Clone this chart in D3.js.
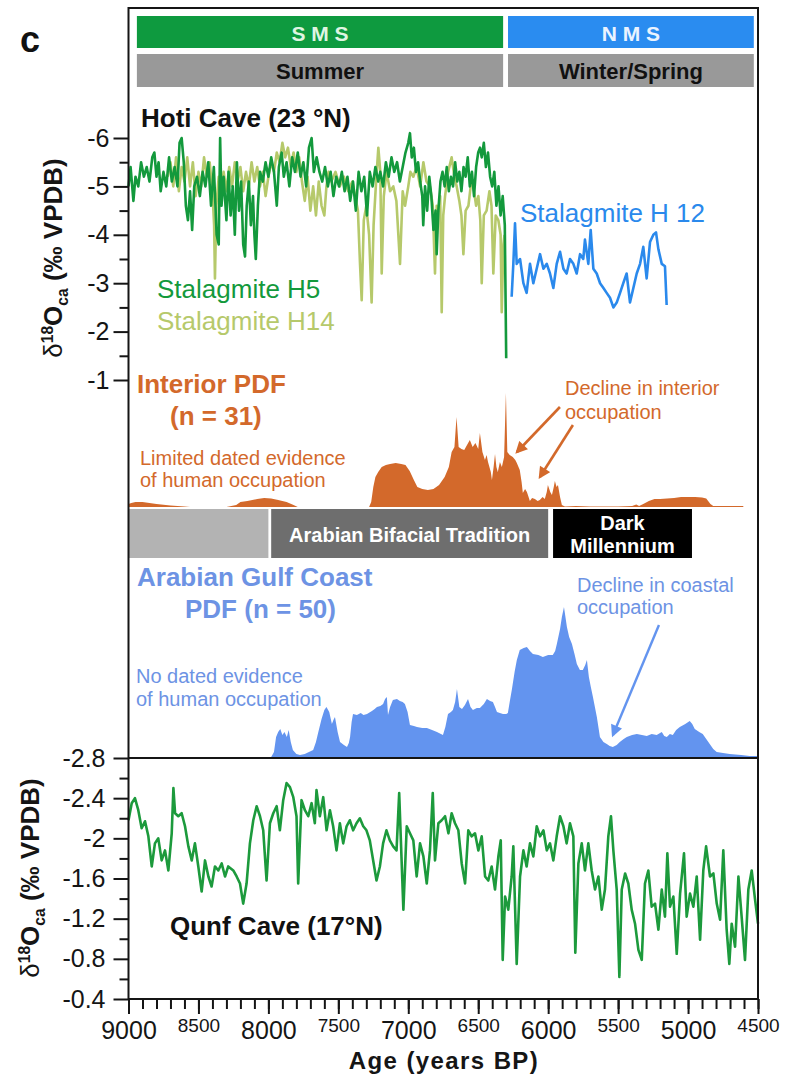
<!DOCTYPE html>
<html>
<head>
<meta charset="utf-8">
<script src="https://cdn.jsdelivr.net/npm/d3@7"></script>
<style>
  body { margin: 0; background: #fff; }
  svg text { font-family: "Liberation Sans", Arial, sans-serif; }
</style>
</head>
<body>
<div class="chart"></div>
<script>
// ---- data ----
// Hoti Cave stalagmites: [age BP, d18O]
var h5 = [[9000,-5.0],[8985,-5.4],[8965,-4.7],[8950,-5.2],[8930,-5.0],[8910,-5.5],[8890,-5.2],[8870,-5.4],[8850,-5.1],[8830,-5.6],
  [8815,-5.7],[8800,-5.2],[8785,-5.5],[8770,-4.9],[8750,-5.3],[8730,-5.0],[8710,-5.6],[8690,-5.1],[8670,-5.4],[8650,-5.0],
  [8635,-5.9],[8620,-6.0],[8605,-5.5],[8590,-4.6],[8575,-4.3],[8560,-4.9],[8545,-4.1],[8530,-5.0],[8510,-5.2],[8490,-4.8],
  [8470,-5.3],[8450,-5.0],[8430,-5.5],[8410,-4.6],[8390,-5.4],[8370,-4.0],[8355,-3.8],[8345,-6.0],[8335,-4.6],[8320,-5.2],
  [8300,-4.3],[8285,-5.3],[8270,-4.4],[8255,-5.0],[8240,-4.0],[8225,-5.5],[8210,-4.5],[8195,-5.1],[8180,-3.8],[8167,-3.55],
  [8155,-4.6],[8140,-5.1],[8125,-4.2],[8110,-4.8],[8100,-4.0],[8090,-3.5],[8075,-4.6],[8060,-5.3],[8040,-5.1],[8020,-5.5],
  [8000,-5.2],[7980,-5.6],[7960,-5.3],[7940,-4.6],[7925,-5.4],[7905,-5.7],[7890,-5.2],[7870,-5.5],[7850,-5.0],[7830,-5.6],
  [7810,-5.3],[7790,-5.7],[7770,-5.2],[7750,-5.5],[7730,-5.0],[7710,-5.8],[7691,-6.0],[7675,-5.3],[7655,-5.6],[7635,-5.3],
  [7615,-5.1],[7595,-5.4],[7575,-5.0],[7555,-5.3],[7535,-4.8],[7515,-5.2],[7495,-5.0],[7475,-5.3],[7455,-4.9],[7435,-5.2],
  [7415,-4.7],[7395,-5.1],[7375,-4.5],[7355,-5.3],[7335,-4.9],[7315,-5.2],[7295,-4.4],[7275,-5.3],[7255,-5.0],[7235,-5.4],
  [7215,-5.1],[7200,-5.3],[7180,-5.0],[7160,-5.5],[7140,-5.2],[7120,-5.6],[7100,-5.3],[7080,-5.5],[7060,-5.1],[7040,-5.4],
  [7020,-5.7],[7000,-5.9],[6988,-6.1],[6975,-5.6],[6960,-5.8],[6945,-5.3],[6930,-5.5],[6915,-5.1],[6900,-4.8],[6893,-4.2],
  [6880,-5.0],[6865,-4.5],[6850,-5.2],[6835,-4.8],[6820,-4.1],[6805,-4.5],[6797,-3.6],[6785,-4.5],[6770,-5.1],[6755,-5.3],
  [6740,-5.0],[6725,-5.4],[6710,-4.9],[6695,-5.2],[6680,-5.0],[6665,-5.5],[6650,-5.1],[6635,-5.3],[6620,-4.9],[6605,-5.4],
  [6590,-5.2],[6575,-5.6],[6560,-5.0],[6545,-5.3],[6530,-4.8],[6515,-5.4],[6500,-5.7],[6487,-5.8],[6475,-5.6],[6460,-5.9],
  [6445,-5.4],[6430,-5.7],[6415,-5.2],[6400,-5.0],[6385,-5.3],[6370,-4.6],[6355,-5.0],[6340,-4.4],[6325,-4.8],[6310,-4.2],
  [6300,-1.45]];

var h14 = [[8720,-5.2],[8700,-5.5],[8680,-5.0],[8660,-5.6],[8640,-4.9],[8620,-5.4],[8600,-5.1],[8580,-5.6],[8560,-5.0],[8540,-5.5],
  [8520,-4.8],[8500,-5.3],[8480,-5.0],[8460,-5.6],[8440,-5.2],[8420,-5.5],[8400,-4.9],[8388,-4.2],[8382,-3.1],[8372,-4.6],
  [8355,-5.2],[8340,-4.8],[8320,-5.3],[8300,-4.9],[8280,-5.4],[8260,-5.0],[8240,-5.5],[8220,-5.1],[8200,-5.4],[8180,-4.9],
  [8160,-5.3],[8140,-5.0],[8120,-5.5],[8100,-5.1],[8080,-5.4],[8060,-5.0],[8040,-5.3],[8020,-4.8],[8000,-5.2],[7980,-5.5],
  [7960,-5.3],[7940,-5.7],[7920,-5.5],[7900,-5.9],[7880,-5.6],[7860,-5.8],[7840,-5.4],[7820,-5.7],[7800,-5.3],[7780,-5.6],
  [7760,-5.1],[7740,-4.7],[7720,-5.2],[7700,-4.5],[7680,-5.0],[7660,-4.4],[7640,-5.1],[7620,-4.6],[7600,-4.4],[7585,-5.0],
  [7570,-5.3],[7550,-5.1],[7520,-5.3],[7490,-5.0],[7460,-5.2],[7430,-4.9],[7400,-5.1],[7380,-4.8],[7360,-4.5],[7345,-3.4],
  [7333,-2.65],[7318,-4.3],[7300,-4.6],[7280,-4.0],[7262,-2.6],[7248,-4.2],[7230,-5.1],[7214,-5.8],[7200,-5.3],[7190,-3.2],
  [7175,-4.8],[7155,-5.3],[7130,-4.9],[7107,-5.0],[7085,-4.7],[7059,-3.4],[7040,-4.9],[7023,-4.6],[7000,-5.0],[6985,-5.3],
  [6964,-5.2],[6940,-5.4],[6915,-5.0],[6892,-5.5],[6870,-5.1],[6845,-5.0],[6825,-4.6],[6809,-3.2],[6797,-4.6],[6785,-4.5],
  [6772,-4.8],[6761,-2.4],[6750,-4.4],[6737,-4.8],[6715,-5.3],[6690,-5.6],[6670,-5.2],[6654,-5.0],[6635,-4.7],[6620,-4.4],
  [6606,-3.6],[6590,-4.5],[6570,-4.6],[6550,-5.1],[6535,-5.0],[6515,-4.6],[6499,-4.8],[6485,-4.3],[6475,-3.0],[6460,-4.4],
  [6440,-4.5],[6420,-4.9],[6405,-4.6],[6392,-3.2],[6375,-4.4],[6356,-4.3],[6340,-4.0],[6332,-2.4],[6320,-3.8],[6312,-4.0]];

var h12 = [[6261,-2.72],[6249,-3.4],[6237,-4.24],[6225,-3.4],[6201,-3.5],[6177,-3.0],[6154,-2.8],[6130,-3.4],[6106,-3.0],[6082,-3.3],
  [6058,-3.6],[6034,-3.3],[6010,-3.4],[5987,-3.2],[5963,-2.9],[5939,-3.4],[5915,-3.65],[5891,-3.3],[5868,-3.2],[5844,-3.5],
  [5820,-3.4],[5796,-3.2],[5772,-3.6],[5749,-3.5],[5737,-3.9],[5713,-3.4],[5696,-4.1],[5677,-3.3],[5653,-3.2],[5629,-3.0],
  [5605,-2.9],[5582,-2.8],[5558,-2.7],[5534,-2.5],[5510,-2.6],[5486,-2.8],[5463,-3.0],[5439,-3.2],[5415,-2.6],[5391,-2.9],
  [5367,-3.2],[5343,-3.4],[5320,-3.75],[5296,-3.1],[5272,-3.85],[5248,-4.0],[5229,-4.05],[5212,-3.7],[5188,-3.4],[5165,-3.35],
  [5153,-2.55]];

// summed probability of radiocarbon dates (relative units)
var interiorPdf = [[9000,0.03],[8980,0.04],[8950,0.05],[8900,0.05],[8850,0.04],[8800,0.03],[8700,0.015],[8600,0.005],[8560,0],
  [8300,0],[8230,0.02],[8200,0.05],[8150,0.06],[8080,0.08],[8030,0.09],[7980,0.085],[7930,0.07],[7870,0.05],[7820,0.02],[7790,0],
  [7280,0],[7265,0.05],[7250,0.2],[7235,0.3],[7215,0.35],[7190,0.4],[7160,0.42],[7130,0.43],[7090,0.44],[7050,0.43],
  [7020,0.42],[6990,0.36],[6960,0.27],[6935,0.2],[6900,0.18],[6860,0.17],[6820,0.18],[6780,0.22],[6740,0.3],[6710,0.4],
  [6690,0.55],[6670,0.6],[6655,0.9],[6640,0.6],[6620,0.58],[6600,0.57],[6580,0.62],[6560,0.67],[6540,0.6],[6520,0.64],
  [6500,0.58],[6488,0.74],[6470,0.55],[6452,0.47],[6440,0.52],[6430,0.45],[6410,0.35],[6402,0.27],[6390,0.4],[6380,0.53],
  [6370,0.4],[6360,0.35],[6345,0.45],[6331,0.4],[6315,0.5],[6302,1.14],[6292,0.55],[6275,0.52],[6253,0.5],[6235,0.47],
  [6224,0.44],[6203,0.37],[6190,0.25],[6181,0.14],[6165,0.18],[6152,0.15],[6140,0.1],[6131,0.06],[6115,0.09],[6095,0.08],
  [6075,0.06],[6060,0.07],[6040,0.1],[6024,0.08],[6010,0.15],[6002,0.22],[5985,0.15],[5973,0.12],[5960,0.2],[5952,0.26],
  [5940,0.2],[5930,0.22],[5915,0.1],[5902,0.02],[5880,0.005],[5800,0.01],[5700,0.005],[5600,0.005],[5500,0.005],[5400,0.01],
  [5370,0.025],[5350,0.01],[5320,0.03],[5280,0.06],[5240,0.08],[5200,0.08],[5150,0.085],[5100,0.09],[5050,0.1],[5000,0.1],
  [4950,0.1],[4900,0.095],[4870,0.085],[4840,0.03],[4820,0.01],[4700,0.01],[4605,0.01]];

var gulfPdf = [[7980,0],[7960,0.05],[7945,0.2],[7930,0.25],[7915,0.28],[7900,0.22],[7885,0.25],[7868,0.2],[7855,0.27],[7840,0.15],
  [7825,0.07],[7800,0.03],[7774,0.02],[7740,0.03],[7710,0.05],[7680,0.07],[7660,0.15],[7643,0.25],[7620,0.38],[7600,0.47],
  [7585,0.5],[7565,0.45],[7546,0.33],[7535,0.37],[7524,0.4],[7505,0.25],[7488,0.15],[7460,0.12],[7438,0.1],[7425,0.14],
  [7416,0.2],[7405,0.35],[7395,0.43],[7367,0.42],[7340,0.44],[7320,0.42],[7295,0.43],[7260,0.46],[7240,0.48],[7224,0.5],
  [7200,0.51],[7180,0.53],[7166,0.58],[7153,0.6],[7145,0.42],[7130,0.5],[7110,0.57],[7081,0.58],[7060,0.56],[7040,0.55],
  [7024,0.53],[7005,0.45],[6988,0.32],[6960,0.31],[6938,0.3],[6900,0.29],[6867,0.29],[6830,0.27],[6795,0.25],[6752,0.22],
  [6735,0.3],[6716,0.43],[6695,0.45],[6681,0.47],[6665,0.55],[6652,0.68],[6635,0.5],[6616,0.48],[6595,0.52],[6573,0.58],
  [6555,0.5],[6538,0.47],[6510,0.49],[6488,0.49],[6460,0.53],[6438,0.58],[6415,0.56],[6395,0.55],[6380,0.5],[6366,0.45],
  [6345,0.44],[6323,0.43],[6300,0.43],[6288,0.44],[6275,0.55],[6260,0.67],[6240,0.85],[6224,0.97],[6203,1.07],[6175,1.09],
  [6152,1.1],[6130,1.06],[6109,1.03],[6070,1.02],[6038,1.0],[6000,1.02],[5967,1.02],[5950,1.06],[5938,1.13],[5915,1.28],
  [5902,1.4],[5887,1.5],[5866,1.3],[5850,1.2],[5830,1.13],[5810,1.02],[5795,0.93],[5773,0.87],[5752,0.87],[5735,0.92],
  [5723,0.97],[5709,0.8],[5695,0.7],[5680,0.6],[5652,0.4],[5630,0.2],[5605,0.15],[5581,0.13],[5560,0.11],[5538,0.1],
  [5510,0.12],[5488,0.15],[5460,0.18],[5438,0.2],[5400,0.22],[5366,0.23],[5330,0.22],[5295,0.21],[5260,0.23],[5224,0.22],
  [5200,0.24],[5188,0.25],[5170,0.21],[5152,0.2],[5130,0.23],[5109,0.22],[5085,0.27],[5059,0.3],[5020,0.33],[4988,0.36],
  [4970,0.33],[4952,0.28],[4920,0.25],[4895,0.23],[4870,0.18],[4845,0.13],[4820,0.08],[4795,0.05],[4750,0.04],[4702,0.03],
  [4620,0.02],[4559,0.01],[4500,0.01]];

// Qunf Cave: [age BP, d18O]
var qunf = [[9000,-2.18],[8977,-2.35],[8954,-2.4],[8930,-2.28],[8906,-2.1],[8882,-2.17],[8858,-2.02],[8834,-1.72],[8811,-1.95],[8787,-2.0],
  [8763,-1.78],[8739,-1.88],[8715,-1.68],[8691,-2.05],[8679,-2.5],[8667,-2.25],[8644,-2.22],[8620,-2.25],[8596,-2.12],[8572,-1.92],
  [8548,-1.78],[8525,-1.95],[8501,-1.72],[8477,-1.47],[8453,-1.78],[8429,-1.62],[8406,-1.52],[8382,-1.72],[8358,-1.68],[8334,-1.75],
  [8310,-1.62],[8287,-1.72],[8251,-1.68],[8227,-1.62],[8203,-1.55],[8180,-1.35],[8156,-1.55],[8132,-1.95],[8108,-2.18],[8084,-2.32],
  [8060,-2.22],[8037,-2.08],[8013,-1.58],[7989,-2.15],[7965,-2.25],[7941,-2.32],[7918,-2.08],[7894,-2.38],[7870,-2.55],[7846,-2.51],
  [7822,-2.41],[7799,-2.22],[7787,-1.55],[7763,-2.38],[7739,-2.28],[7715,-2.22],[7691,-2.35],[7668,-2.15],[7656,-2.48],[7632,-2.22],
  [7608,-2.41],[7584,-2.08],[7560,-2.28],[7537,-2.12],[7513,-1.88],[7489,-2.15],[7465,-1.95],[7441,-2.12],[7418,-2.18],[7394,-2.08],
  [7370,-2.15],[7346,-2.2],[7322,-2.12],[7299,-2.08],[7275,-1.98],[7251,-1.78],[7227,-1.58],[7203,-1.72],[7180,-1.95],[7156,-2.08],
  [7132,-1.98],[7108,-1.92],[7084,-1.88],[7065,-2.45],[7035,-1.29],[7011,-2.12],[6988,-2.05],[6964,-1.98],[6940,-1.62],[6916,-1.95],
  [6892,-1.82],[6868,-1.55],[6845,-1.88],[6825,-2.45],[6809,-1.78],[6785,-2.15],[6761,-2.18],[6737,-2.22],[6713,-2.05],[6690,-2.25],
  [6666,-2.15],[6642,-2.08],[6618,-1.75],[6594,-1.55],[6571,-2.08],[6547,-2.02],[6523,-2.05],[6499,-1.88],[6475,-2.02],[6451,-1.62],
  [6428,-1.58],[6404,-1.72],[6380,-1.49],[6356,-1.82],[6339,-1.98],[6325,-0.79],[6308,-1.42],[6285,-1.29],[6261,-1.62],[6249,-1.92],
  [6225,-0.75],[6201,-1.62],[6177,-1.88],[6154,-1.72],[6130,-1.95],[6106,-1.82],[6082,-2.12],[6058,-2.02],[6034,-2.08],[6010,-1.88],
  [5987,-1.95],[5963,-1.78],[5939,-2.02],[5915,-2.22],[5891,-2.12],[5868,-1.95],[5844,-2.15],[5820,-2.02],[5806,-0.86],[5784,-1.75],
  [5760,-1.95],[5737,-1.68],[5713,-1.95],[5689,-1.68],[5665,-1.49],[5641,-1.62],[5617,-1.29],[5594,-1.49],[5570,-2.02],[5551,-2.22],
  [5534,-1.88],[5510,-1.49],[5491,-0.62],[5474,-1.49],[5450,-1.65],[5427,-1.55],[5403,-1.29],[5379,-1.15],[5355,-0.89],[5331,-0.79],
  [5308,-1.55],[5284,-1.68],[5260,-1.32],[5236,-1.35],[5212,-1.09],[5188,-1.49],[5165,-1.22],[5148,-1.85],[5129,-1.32],[5105,-1.42],
  [5081,-0.85],[5057,-1.45],[5029,-1.85],[5010,-1.22],[4986,-1.45],[4962,-1.32],[4938,-1.62],[4914,-0.99],[4891,-1.68],[4871,-1.92],
  [4843,-1.62],[4819,-1.65],[4795,-1.35],[4771,-1.19],[4748,-1.88],[4724,-1.09],[4705,-0.75],[4688,-1.15],[4664,-0.92],[4640,-1.62],
  [4617,-1.22],[4593,-0.79],[4569,-1.49],[4545,-1.68],[4521,-1.39],[4500,-1.15]];

// bands (age ranges)
var monsoon = [{name: 'S M S', season: 'Summer', from: 8940, to: 6322},
               {name: 'N M S', season: 'Winter/Spring', from: 6287, to: 4530}];
var periods = [{name: [], from: 9000, to: 8000},
               {name: ['Arabian Bifacial Tradition'], from: 7980, to: 6000},
               {name: ['Dark', 'Millennium'], from: 5965, to: 4972}];

// ticks
var ageMinor = d3.range(4500, 9001, 100);
var ageMajor = [9000, 8500, 8000, 7500, 7000, 6500, 6000, 5500, 5000, 4500];
var hotiTicks = [-6, -5, -4, -3, -2, -1];
var hotiMinor = [-5.5, -4.5, -3.5, -2.5, -1.5];
var qunfTicks = [-2.8, -2.4, -2, -1.6, -1.2, -0.8, -0.4];
var qunfMinor = [-2.6, -2.2, -1.8, -1.4, -1.0, -0.6];

// ---- drawing ----
var W = 785, H = 1077;
var svg = d3.select('.chart').append('svg').attr('width', W).attr('height', H);

var x = d3.scaleLinear().domain([9000, 4500]).range([128.5, 758]);
var hotiY = d3.scaleLinear().domain([-6, -1]).range([138, 380]);
var intY = d3.scaleLinear().domain([0, 1]).range([507, 407]);
var gulfY = d3.scaleLinear().domain([0, 1]).range([757, 657]);
var qunfY = d3.scaleLinear().domain([-2.8, -0.4]).range([758, 999]);

var ORANGE = '#d3692b', GULF = '#6394ef', GULFTXT = '#6d93e4';
var monsoonFill = ['#0e9a3f', '#2a8cf0'], monsoonText = ['#dff5e2', '#eaf3ff'];
var periodFill = ['#b3b3b3', '#6e6e6e', '#000000'];

// monsoon bands
var mb = svg.selectAll('g.monsoon').data(monsoon).enter().append('g');
mb.append('rect').attr('x', function(d){ return x(d.from); }).attr('y', 16)
  .attr('width', function(d){ return x(d.to) - x(d.from); }).attr('height', 32)
  .attr('fill', function(d, i){ return monsoonFill[i]; });
mb.append('rect').attr('x', function(d){ return x(d.from); }).attr('y', 54)
  .attr('width', function(d){ return x(d.to) - x(d.from); }).attr('height', 33)
  .attr('fill', '#999999');
mb.append('text').attr('x', function(d){ return (x(d.from) + x(d.to)) / 2; }).attr('y', 41)
  .attr('text-anchor', 'middle').attr('font-size', 21).attr('font-weight', 'bold')
  .attr('fill', function(d, i){ return monsoonText[i]; }).text(function(d){ return d.name; });
mb.append('text').attr('x', function(d){ return (x(d.from) + x(d.to)) / 2; }).attr('y', 79)
  .attr('text-anchor', 'middle').attr('font-size', 22).attr('font-weight', 'bold')
  .attr('fill', '#111').text(function(d){ return d.season; });

// interior PDF
svg.append('path').datum(interiorPdf)
  .attr('d', d3.area().x(function(d){ return x(d[0]); }).y0(intY(0)).y1(function(d){ return intY(d[1]); }))
  .attr('fill', ORANGE);

// cultural periods
var pb = svg.selectAll('g.period').data(periods).enter().append('g');
pb.append('rect').attr('x', function(d){ return x(d.from); }).attr('y', 509)
  .attr('width', function(d){ return x(d.to) - x(d.from); }).attr('height', 49)
  .attr('fill', function(d, i){ return periodFill[i]; });
pb.each(function(d){
  var g = d3.select(this), cx = (x(d.from) + x(d.to)) / 2;
  var y0 = d.name.length > 1 ? 530 : 542;
  d.name.forEach(function(s, k){
    g.append('text').attr('x', cx).attr('y', y0 + k * 23).attr('text-anchor', 'middle')
      .attr('font-size', 20).attr('font-weight', 'bold').attr('fill', '#fff').text(s);
  });
});

// gulf PDF
svg.append('path').datum(gulfPdf)
  .attr('d', d3.area().x(function(d){ return x(d[0]); }).y0(gulfY(0)).y1(function(d){ return gulfY(d[1]); }))
  .attr('fill', GULF);

// Hoti lines
var hotiLine = d3.line().x(function(d){ return x(d[0]); }).y(function(d){ return hotiY(d[1]); });
[[h14, '#b6c96b'], [h5, '#13993c'], [h12, '#2a89ec']].forEach(function(s){
  svg.append('path').datum(s[0]).attr('d', hotiLine).attr('fill', 'none')
    .attr('stroke', s[1]).attr('stroke-width', 2.6).attr('stroke-linejoin', 'round');
});

// Qunf line
svg.append('path').datum(qunf)
  .attr('d', d3.line().x(function(d){ return x(d[0]); }).y(function(d){ return qunfY(d[1]); }))
  .attr('fill', 'none').attr('stroke', '#1c9a3c').attr('stroke-width', 2.6).attr('stroke-linejoin', 'round');

// frame
var frame = svg.append('g').attr('stroke', '#151515').attr('stroke-width', 2).attr('fill', 'none');
frame.append('rect').attr('x', 128.5).attr('y', 8).attr('width', 758 - 128.5).attr('height', 999 - 8);
frame.append('line').attr('x1', 128.5).attr('x2', 758).attr('y1', 758).attr('y2', 758);

// axes
function styleAxis(g, size){
  g.select('.domain').remove();
  g.attr('font-size', size).attr('font-family', '"Liberation Sans", Arial, sans-serif');
  g.selectAll('line').attr('stroke', '#151515').attr('stroke-width', 2);
  g.selectAll('text').attr('fill', '#151515');
}
function fmt(d){ return String(d); }

styleAxis(svg.append('g').attr('transform', 'translate(128.5,0)')
  .call(d3.axisLeft(hotiY).tickValues(hotiTicks).tickSize(15).tickPadding(4).tickFormat(fmt)), 25);
styleAxis(svg.append('g').attr('transform', 'translate(128.5,0)')
  .call(d3.axisLeft(hotiY).tickValues(hotiMinor).tickSize(9).tickFormat('')), 25);
styleAxis(svg.append('g').attr('transform', 'translate(128.5,0)')
  .call(d3.axisLeft(qunfY).tickValues(qunfTicks).tickSize(15).tickPadding(8).tickFormat(fmt)), 25);
styleAxis(svg.append('g').attr('transform', 'translate(128.5,0)')
  .call(d3.axisLeft(qunfY).tickValues(qunfMinor).tickSize(9).tickFormat('')), 25);

styleAxis(svg.append('g').attr('transform', 'translate(0,999)')
  .call(d3.axisBottom(x).tickValues(ageMinor).tickSize(10).tickFormat('')), 25);
var xa = svg.append('g').attr('transform', 'translate(0,999)')
  .call(d3.axisBottom(x).tickValues(ageMajor).tickSize(15).tickFormat(fmt));
styleAxis(xa, 25);
xa.selectAll('text').attr('dy', 0)
  .attr('y', function(d){ return d % 1000 === 0 ? 40 : 33; })
  .attr('font-size', function(d){ return d % 1000 === 0 ? 25 : 19; });

// axis titles
function yTitle(cx, cy, size){
  var t = svg.append('text').attr('transform', 'translate(' + cx + ',' + cy + ') rotate(-90)')
    .attr('text-anchor', 'middle').attr('font-size', size).attr('font-weight', 'bold').attr('fill', '#151515');
  t.append('tspan').attr('font-weight', 'normal').text('δ');
  t.append('tspan').attr('font-size', size * 0.6).attr('dy', -size * 0.36).text('18');
  t.append('tspan').attr('dy', size * 0.36).text('O');
  t.append('tspan').attr('font-size', size * 0.6).attr('dy', size * 0.24).text('ca');
  t.append('tspan').attr('dy', -size * 0.24).text(' (‰ VPDB)');
}
yTitle(62, 258, 26);
yTitle(39, 878, 26);
svg.append('text').attr('x', 444).attr('y', 1069).attr('text-anchor', 'middle')
  .attr('font-size', 24).attr('letter-spacing', 1.4).attr('font-weight', 'bold').attr('fill', '#151515')
  .text('Age (years BP)');

// panel letter and labels
function label(tx, ty, s, size, color, weight){
  return svg.append('text').attr('x', tx).attr('y', ty).attr('font-size', size)
    .attr('font-weight', weight || 'normal').attr('fill', color).text(s);
}
label(20, 52, 'c', 36, '#111', 'bold');
label(141, 127, 'Hoti Cave (23 °N)', 26, '#111', 'bold');
label(157, 298, 'Stalagmite H5', 26, '#13993c');
label(157, 330, 'Stalagmite H14', 26, '#b6c96b');
label(520, 222, 'Stalagmite H 12', 26, '#2a89ec');
label(137, 393, 'Interior PDF', 26, ORANGE, 'bold');
label(170, 425, '(n = 31)', 26, ORANGE, 'bold');
label(140, 465, 'Limited dated evidence', 20, ORANGE);
label(140, 487, 'of human occupation', 20, ORANGE);
label(565, 395, 'Decline in interior', 20, ORANGE);
label(565, 419, 'occupation', 20, ORANGE);
label(137, 586, 'Arabian Gulf Coast', 26, GULFTXT, 'bold');
label(185, 618, 'PDF (n = 50)', 26, GULFTXT, 'bold');
label(136, 683, 'No dated evidence', 20, GULFTXT);
label(136, 706, 'of human occupation', 20, GULFTXT);
label(577, 592, 'Decline in coastal', 20, GULFTXT);
label(577, 614, 'occupation', 20, GULFTXT);
label(170, 935, 'Qunf Cave  (17°N)', 26, '#111', 'bold');

// arrows (in data units: age, pdf)
var defs = svg.append('defs');
[['ah-o', ORANGE], ['ah-b', GULF]].forEach(function(m){
  defs.append('marker').attr('id', m[0]).attr('viewBox', '0 0 10 10').attr('refX', 8).attr('refY', 5)
    .attr('markerWidth', 13).attr('markerHeight', 12).attr('markerUnits', 'userSpaceOnUse').attr('orient', 'auto')
    .append('path').attr('d', 'M0,0L10,5L0,10Z').attr('fill', m[1]);
});
var intArrows = [[[5916, 1.0], [6223, 0.55]], [[5823, 0.82], [6059, 0.30]]];
intArrows.forEach(function(a){
  svg.append('line').attr('x1', x(a[0][0])).attr('y1', intY(a[0][1])).attr('x2', x(a[1][0])).attr('y2', intY(a[1][1]))
    .attr('stroke', ORANGE).attr('stroke-width', 2.6).attr('marker-end', 'url(#ah-o)');
});
var gulfArrow = [[5208, 1.32], [5537, 0.22]];
svg.append('line').attr('x1', x(gulfArrow[0][0])).attr('y1', gulfY(gulfArrow[0][1]))
  .attr('x2', x(gulfArrow[1][0])).attr('y2', gulfY(gulfArrow[1][1]))
  .attr('stroke', GULF).attr('stroke-width', 2.4).attr('marker-end', 'url(#ah-b)');
</script>
</body>
</html>
